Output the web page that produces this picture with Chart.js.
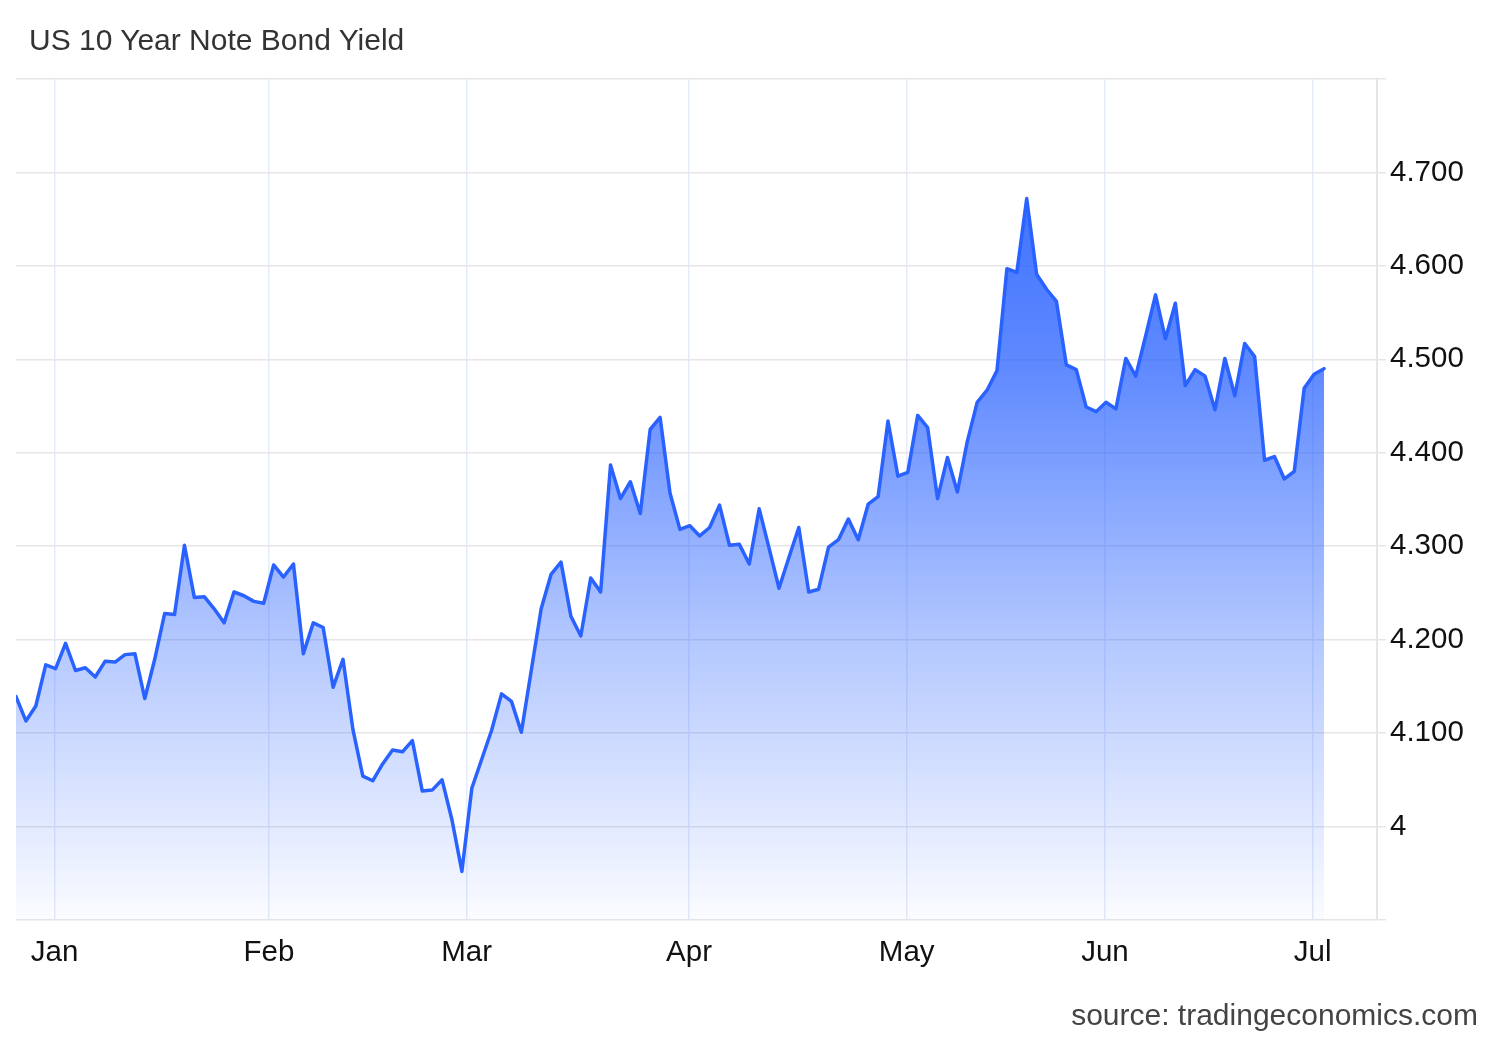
<!DOCTYPE html>
<html>
<head>
<meta charset="utf-8">
<script src="https://cdn.jsdelivr.net/npm/chart.js@4.4.1/dist/chart.umd.min.js"></script>
<style>
  body { margin: 0; background: #fff; }
  #wrap { position: relative; width: 1500px; height: 1040px; }
  #chart { position: absolute; left: 0; top: 0; }
  .title {
    position: absolute; left: 29px; top: 25px;
    font: 30px/30px "Liberation Sans", Arial, sans-serif; color: #333;
  }
  .source {
    position: absolute; right: 22px; top: 1000px;
    font: 30px/30px "Liberation Sans", Arial, sans-serif; color: #444;
  }
</style>
</head>
<body>
<div id="wrap">
  <canvas id="chart" width="1500" height="1040"></canvas>
  <div class="title">US 10 Year Note Bond Yield</div>
  <div class="source">source: tradingeconomics.com</div>
</div>
<script>
// daily closes, one per trading day
const yields = [
  4.139, 4.113, 4.129, 4.173, 4.169, 4.196, 4.167, 4.170, 4.160, 4.177,
  4.176, 4.184, 4.185, 4.137, 4.179, 4.228, 4.227, 4.301, 4.245, 4.246,
  4.233, 4.218, 4.251, 4.247, 4.241, 4.239, 4.280, 4.267, 4.281, 4.185,
  4.218, 4.213, 4.149, 4.179, 4.104, 4.054, 4.049, 4.067, 4.082, 4.080,
  4.092, 4.038, 4.039, 4.050, 4.007, 3.952, 4.041, 4.072, 4.103, 4.142,
  4.134, 4.101, 4.167, 4.233, 4.270, 4.283, 4.225, 4.204, 4.266, 4.251,
  4.387, 4.351, 4.369, 4.335, 4.425, 4.438, 4.357, 4.318, 4.322, 4.311,
  4.320, 4.344, 4.301, 4.302, 4.281, 4.340, 4.298, 4.255, 4.288, 4.320,
  4.251, 4.254, 4.299, 4.307, 4.329, 4.307, 4.345, 4.353, 4.434, 4.375,
  4.379, 4.440, 4.427, 4.351, 4.395, 4.358, 4.412, 4.454, 4.467, 4.488,
  4.597, 4.593, 4.672, 4.591, 4.575, 4.562, 4.494, 4.489, 4.449, 4.444,
  4.454, 4.447, 4.501, 4.482, 4.525, 4.569, 4.522, 4.560, 4.472, 4.489,
  4.482, 4.446, 4.501, 4.461, 4.517, 4.503, 4.392, 4.396, 4.372, 4.380,
  4.469, 4.484, 4.490
];

// month labels and where they sit, in trading-day units
const monthLabels = ['Jan', 'Feb', 'Mar', 'Apr', 'May', 'Jun', 'Jul'];
const monthPos = [3.89, 25.53, 45.48, 67.92, 89.89, 109.9, 130.86];

const yTickValues = [3.9, 4.0, 4.1, 4.2, 4.3, 4.4, 4.5, 4.6, 4.7, 4.8];
const yTickLabels = ['', '4', '4.100', '4.200', '4.300', '4.400', '4.500', '4.600', '4.700', ''];

const points = yields.map((v, i) => ({ x: i, y: v }));
const FONT = '"Liberation Sans", Arial, sans-serif';

function areaFill(context) {
  const { ctx, chartArea } = context.chart;
  if (!chartArea) return 'rgba(41,98,255,0.3)';
  const g = ctx.createLinearGradient(0, chartArea.top, 0, chartArea.bottom);
  g.addColorStop(0, 'rgba(41,98,255,1)');
  g.addColorStop(0.35, 'rgba(41,98,255,0.74)');
  g.addColorStop(0.67, 'rgba(41,98,255,0.35)');
  g.addColorStop(0.9, 'rgba(41,98,255,0.12)');
  g.addColorStop(1, 'rgba(41,98,255,0.02)');
  return g;
}

new Chart(document.getElementById('chart'), {
  type: 'line',
  data: {
    datasets: [{
      data: points,
      borderColor: '#2962ff',
      borderWidth: 3.5,
      borderJoinStyle: 'round',
      borderCapStyle: 'round',
      backgroundColor: areaFill,
      fill: 'start',
      pointRadius: 0,
      tension: 0
    }]
  },
  options: {
    responsive: false,
    animation: false,
    devicePixelRatio: 1,
    layout: { padding: { left: 16, top: 79, right: 0, bottom: 0 } },
    plugins: {
      legend: { display: false },
      tooltip: { enabled: false }
    },
    scales: {
      x: {
        type: 'linear',
        min: 0,
        max: 137.35,
        afterBuildTicks: s => { s.ticks = monthPos.map(v => ({ value: v })); },
        afterFit: s => { s.height = 120; },
        ticks: {
          autoSkip: false,
          maxRotation: 0,
          padding: 15,
          color: '#111',
          font: { family: FONT, size: 29.5 },
          callback: (v, i) => monthLabels[i]
        },
        grid: { color: 'rgba(210,222,247,0.6)', lineWidth: 1.5, drawTicks: false },
        border: { display: false }
      },
      y: {
        position: 'right',
        min: 3.9,
        max: 4.8,
        afterBuildTicks: s => { s.ticks = yTickValues.map(v => ({ value: v })); },
        afterFit: s => { s.width = 123; },
        ticks: {
          padding: 4,
          color: '#111',
          font: { family: FONT, size: 29.5 },
          callback: (v, i) => yTickLabels[i]
        },
        grid: { color: '#e6e6e6', lineWidth: 1.5, tickLength: 9 },
        border: { display: true, color: '#e6e6e6', width: 2 }
      }
    }
  }
});
</script>
</body>
</html>
